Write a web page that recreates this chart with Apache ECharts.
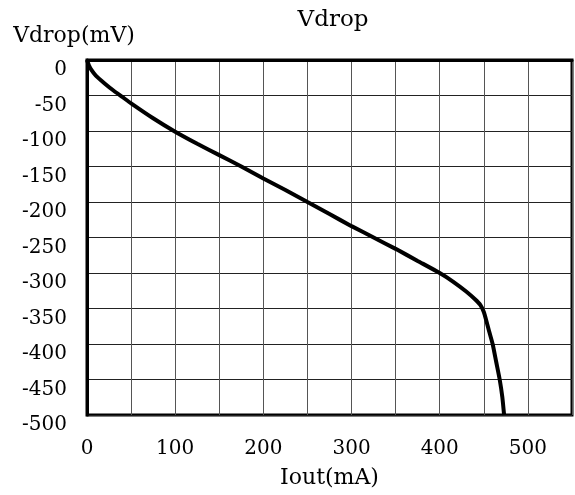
<!DOCTYPE html>
<html>
<head>
<meta charset="utf-8">
<script src="https://cdn.jsdelivr.net/npm/echarts@6/dist/echarts.min.js"></script>
<style>
  html, body { margin: 0; padding: 0; background: #fff; }
  #chart { width: 575px; height: 495px; }
</style>
</head>
<body>
<div id="chart"></div>
<script>
// Output current (mA) and corresponding dropout voltage (mV)
var ioutMA = [0, 2, 5, 10, 20, 30, 40, 50, 75, 100, 125, 150, 175, 200, 225, 250, 275, 300, 325, 350, 375, 400, 415, 430, 440, 446, 450, 453, 456, 460, 464, 468, 471, 473];
var vdropMV = [0, -7, -14, -22, -33, -43, -52, -61, -82, -101, -118, -134, -150, -167, -183, -200, -217, -234, -250, -266, -283, -300, -312, -326, -337, -345, -355, -368, -382, -400, -425, -450, -475, -500];

var xTicks = [0, 100, 200, 300, 400, 500];
var titleText = 'Vdrop';
var xName = 'Iout(mA)';
var yName = 'Vdrop(mV)';

var FONT = 'DejaVu Serif';
var points = ioutMA.map(function (x, i) { return [x, vdropMV[i]]; });

var chart = echarts.init(document.getElementById('chart'), null, { renderer: 'canvas' });
chart.setOption({
  backgroundColor: '#ffffff',
  animation: false,
  title: {
    text: titleText,
    left: 328,
    top: 4,
    textAlign: 'center',
    textStyle: { fontFamily: FONT, fontSize: 23, fontWeight: 'normal', color: '#000' }
  },
  grid: {
    left: 87, right: 3, top: 60, bottom: 80,
    show: true, borderColor: '#000', borderWidth: 3, backgroundColor: 'transparent'
  },
  xAxis: {
    type: 'value',
    min: 0, max: 550, interval: 50,
    name: xName,
    nameLocation: 'middle',
    nameGap: 52,
    nameTextStyle: { fontFamily: FONT, fontSize: 22, color: '#000' },
    axisLine: { show: true, lineStyle: { color: '#000', width: 3 } },
    axisTick: { show: false },
    axisLabel: {
      margin: 24,
      fontFamily: FONT, fontSize: 20, color: '#000',
      formatter: function (v) { return xTicks.indexOf(v) >= 0 ? String(v) : ''; }
    },
    splitLine: { show: true, lineStyle: { color: '#555', width: 1 } }
  },
  yAxis: {
    type: 'value',
    min: -500, max: 0, interval: 50,
    name: yName,
    nameLocation: 'end',
    nameGap: 13,
    nameTextStyle: { fontFamily: FONT, fontSize: 22, color: '#000', align: 'center', padding: [0, 26, 0, 0] },
    axisLine: { show: true, lineStyle: { color: '#000', width: 3 } },
    axisTick: { show: false },
    axisLabel: {
      margin: 20,
      fontFamily: FONT, fontSize: 20, color: '#000',
      verticalAlign: 'top'
    },
    splitLine: { show: true, lineStyle: { color: '#222', width: 1 } }
  },
  series: [{
    type: 'line',
    data: points,
    showSymbol: false,
    smooth: 0.2,
    lineStyle: { color: '#000', width: 4 },
    clip: true
  }]
});
</script>
</body>
</html>
